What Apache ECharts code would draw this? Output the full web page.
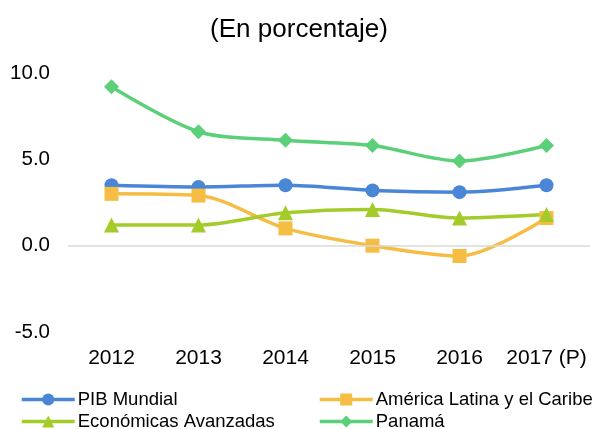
<!DOCTYPE html>
<html>
<head>
<meta charset="utf-8">
<script src="https://cdn.jsdelivr.net/npm/echarts@6/dist/echarts.min.js"></script>
<style>
  html, body { margin: 0; padding: 0; background: #fff; }
  #chart { width: 598px; height: 429px; }
</style>
</head>
<body>
<div id="chart"></div>
<script>
// datos
var years = ['2012', '2013', '2014', '2015', '2016', '2017 (P)']
var pibMundial = [3.5, 3.4, 3.5, 3.2, 3.1, 3.5]
var americaLatina = [3.0, 2.9, 1.0, 0.0, -0.6, 1.6]
var economiasAvanzadas = [1.2, 1.2, 1.9, 2.1, 1.6, 1.8]
var panama = [9.2, 6.6, 6.1, 5.8, 4.9, 5.8]
var yTicks = [-5, 0, 5, 10]

var font = 'Liberation Sans, Arial, sans-serif'

function makeSeries(name, data, color, symbol, size) {
  return {
    name: name,
    type: 'line',
    data: data,
    smooth: 0.3,
    symbol: symbol,
    symbolSize: size,
    lineStyle: { color: color, width: 3.5 },
    itemStyle: { color: color },
    animation: false
  }
}

var chart = echarts.init(document.getElementById('chart'))

var series = [
  makeSeries('PIB Mundial', pibMundial, '#4a86d6', 'circle', 14),
  makeSeries('América Latina y el Caribe', americaLatina, '#f5bd43', 'rect', 14),
  makeSeries('Económicas Avanzadas', economiasAvanzadas, '#a3cc2a', 'triangle', 15),
  makeSeries('Panamá', panama, '#5ccf79', 'diamond', 15)
]
// linea del cero
series[0].markLine = {
  silent: true,
  symbol: 'none',
  label: { show: false },
  lineStyle: { color: '#d9d9d9', width: 1.5, type: 'solid' },
  data: [{ yAxis: 0 }]
}

// una leyenda por elemento para fijar las dos columnas
function legendItem(name, left, top) {
  return {
    data: [name],
    left: left,
    top: top,
    itemWidth: 53,
    itemHeight: 15,
    itemGap: 0,
    lineStyle: { width: 3.5 },
    textStyle: { fontFamily: font, fontSize: 18.5, color: '#000', padding: [0, 0, 0, -2] }
  }
}

chart.setOption({
  title: {
    text: '(En porcentaje)',
    left: 'center',
    top: 12,
    textStyle: { fontFamily: font, fontSize: 26, fontWeight: 'normal', color: '#000' }
  },
  grid: { left: 68, right: 8, top: 73, bottom: 97 },
  legend: [
    legendItem('PIB Mundial', 15, 385),
    legendItem('Económicas Avanzadas', 15, 407),
    legendItem('América Latina y el Caribe', 313, 385),
    legendItem('Panamá', 313, 407)
  ],
  xAxis: {
    type: 'category',
    data: years,
    axisLine: { show: false, onZero: false },
    axisTick: { show: false },
    axisLabel: { interval: 0, fontFamily: font, fontSize: 21, color: '#000', margin: 16 }
  },
  yAxis: {
    type: 'value',
    min: yTicks[0],
    max: yTicks[yTicks.length - 1],
    interval: 5,
    splitLine: { show: false },
    axisLine: { show: false },
    axisTick: { show: false },
    axisLabel: {
      fontFamily: font,
      fontSize: 20.5,
      color: '#000',
      margin: 18,
      formatter: function (v) { return v.toFixed(1) }
    }
  },
  series: series
})
</script>
</body>
</html>
